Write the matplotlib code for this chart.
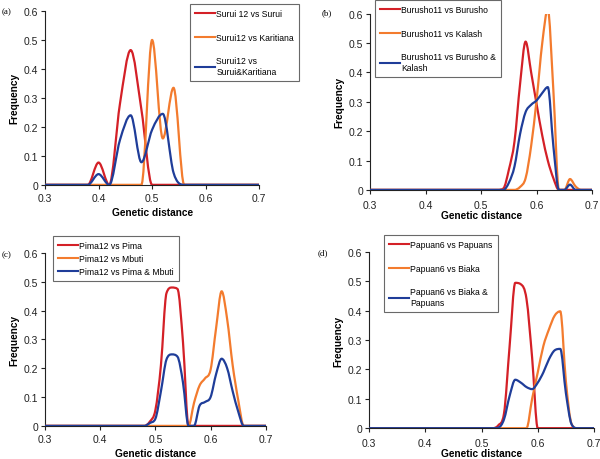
import numpy as np
import matplotlib
matplotlib.use("Agg")
import matplotlib.pyplot as plt
from matplotlib.path import Path
from matplotlib.patches import PathPatch
from matplotlib.lines import Line2D
from matplotlib.ticker import FuncFormatter

plt.rcParams['font.family'] = ['Liberation Sans', 'DejaVu Sans']

# colours of the three series (same in every panel)
RED = '#d42027'
ORANGE = '#f37b2e'
BLUE = '#1f3d99'

# ---- panel (a) ----
x_a = [0.30, 0.38, 0.40, 0.42, 0.44, 0.46, 0.48, 0.50, 0.52, 0.54, 0.56, 0.70]
red_a = [0, 0, 0.077, 0, 0.28, 0.465, 0.26, 0, 0, 0, 0, 0]
orange_a = [0, 0, 0, 0, 0, 0, 0, 0.50, 0.16, 0.335, 0, 0]
blue_a = [0, 0, 0.037, 0, 0.155, 0.24, 0.078, 0.19, 0.245, 0.042, 0, 0]
labels_a = ['Surui 12 vs Surui', 'Surui12 vs Karitiana', 'Surui12 vs\nSurui&Karitiana']

# ---- panel (b) ----
x_b = [0.30, 0.52, 0.53, 0.54, 0.55, 0.56, 0.57, 0.58, 0.59, 0.60, 0.61,
       0.62, 0.63, 0.64, 0.65, 0.66, 0.67, 0.68, 0.70]
red_b = [0, 0, 0, 0.005, 0.07, 0.165, 0.36, 0.505, 0.40, 0.29, 0.185,
         0.10, 0.04, 0, 0, 0, 0, 0, 0]
orange_b = [0, 0, 0, 0, 0, 0, 0.01, 0.04, 0.15, 0.31, 0.50,
            0.615, 0.34, 0, 0, 0.037, 0.012, 0, 0]
blue_b = [0, 0, 0, 0, 0.025, 0.08, 0.19, 0.265, 0.29, 0.305, 0.33,
          0.35, 0.15, 0, 0, 0.018, 0, 0, 0]
labels_b = ['Burusho11 vs Burusho', 'Burusho11 vs Kalash', 'Burusho11 vs Burusho &\nKalash']

# ---- panel (c) ----
x_c = [0.30, 0.47, 0.48, 0.49, 0.50, 0.51, 0.52, 0.53, 0.54, 0.55, 0.56, 0.57,
       0.58, 0.59, 0.60, 0.61, 0.62, 0.63, 0.64, 0.65, 0.66, 0.67, 0.70]
red_c = [0, 0, 0, 0.015, 0.055, 0.21, 0.46, 0.48, 0.475, 0.29, 0, 0,
         0, 0, 0, 0, 0, 0, 0, 0, 0, 0, 0]
orange_c = [0, 0, 0, 0, 0, 0, 0, 0, 0, 0, 0, 0.08,
            0.14, 0.165, 0.195, 0.34, 0.467, 0.37, 0.21, 0.09, 0, 0, 0]
blue_c = [0, 0, 0, 0.01, 0.025, 0.12, 0.23, 0.248, 0.24, 0.15, 0, 0,
          0.07, 0.083, 0.10, 0.18, 0.233, 0.20, 0.12, 0.05, 0, 0, 0]
labels_c = ['Pima12 vs Pima', 'Pima12 vs Mbuti', 'Pima12 vs Pima & Mbuti']

# ---- panel (d) ----
x_d = [0.30, 0.51, 0.52, 0.53, 0.54, 0.55, 0.56, 0.57, 0.58, 0.59, 0.60,
       0.61, 0.62, 0.63, 0.64, 0.65, 0.66, 0.67, 0.68, 0.70]
red_d = [0, 0, 0, 0.01, 0.05, 0.28, 0.495, 0.49, 0.44, 0.24, 0,
         0, 0, 0, 0, 0, 0, 0, 0, 0]
orange_d = [0, 0, 0, 0, 0, 0, 0, 0, 0, 0.10, 0.19,
            0.28, 0.337, 0.383, 0.398, 0.16, 0.015, 0, 0, 0]
blue_d = [0, 0, 0, 0.002, 0.03, 0.11, 0.165, 0.155, 0.14, 0.133, 0.155,
          0.19, 0.235, 0.265, 0.27, 0.12, 0.014, 0, 0, 0]
labels_d = ['Papuan6 vs Papuans', 'Papuan6 vs Biaka', 'Papuan6 vs Biaka &\nPapuans']


def smooth_path(x, y):
    # smoothed line: cubic bezier segments through the data points,
    # slopes limited so the curve does not overshoot
    x = np.asarray(x, float)
    y = np.asarray(y, float)
    n = len(x)
    m = np.zeros(n)
    for i in range(1, n - 1):
        d0 = (y[i] - y[i - 1]) / (x[i] - x[i - 1])
        d1 = (y[i + 1] - y[i]) / (x[i + 1] - x[i])
        if y[i] == 0 or d0 * d1 <= 0:
            continue
        s = (y[i + 1] - y[i - 1]) / (x[i + 1] - x[i - 1])
        m[i] = np.sign(s) * min(abs(s), 3 * min(abs(d0), abs(d1)))
    verts = [(x[0], y[0])]
    codes = [Path.MOVETO]
    for i in range(n - 1):
        h = x[i + 1] - x[i]
        verts += [(x[i] + h / 3, y[i] + m[i] * h / 3),
                  (x[i + 1] - h / 3, y[i + 1] - m[i + 1] * h / 3),
                  (x[i + 1], y[i + 1])]
        codes += [Path.CURVE4] * 3
    return Path(verts, codes)


def yfmt(v, pos):
    return '0' if abs(v) < 1e-9 else '%.1f' % v


def panel(rect, tag, tagpos, x, series, labels, leg_anchor, leg_space, tickpad, labpad):
    ax = fig.add_axes(rect)
    for i, (ys, c) in enumerate(zip(series, [RED, ORANGE, BLUE])):
        ax.add_patch(PathPatch(smooth_path(x, ys), fill=False, edgecolor=c,
                               lw=1.6, zorder=2 + i, capstyle='round', joinstyle='round'))
    ax.set_xlim(0.3, 0.7)
    ax.set_ylim(0, 0.6)
    ax.set_xticks([0.3, 0.4, 0.5, 0.6, 0.7])
    ax.set_yticks([0, 0.1, 0.2, 0.3, 0.4, 0.5, 0.6])
    ax.yaxis.set_major_formatter(FuncFormatter(yfmt))
    ax.spines['top'].set_visible(False)
    ax.spines['right'].set_visible(False)
    for s in ['left', 'bottom']:
        ax.spines[s].set_linewidth(0.8)
        ax.spines[s].set_color('#222222')
    ax.tick_params(direction='out', length=3, width=0.8, labelsize=7.5,
                   colors='#222222', pad=2)
    ax.tick_params(axis='x', pad=tickpad)
    ax.set_xlabel('Genetic distance', fontsize=7.3, fontweight='bold', labelpad=labpad)
    ax.set_ylabel('Frequency', fontsize=7.3, fontweight='bold', labelpad=3)
    handles = [Line2D([], [], color=c, lw=1.5) for c in [RED, ORANGE, BLUE]]
    leg = ax.legend(handles, labels, loc='upper left', bbox_to_anchor=leg_anchor,
                    bbox_transform=fig.transFigure, fontsize=6.2, frameon=True,
                    fancybox=False, edgecolor='#444444', handlelength=2.3,
                    handletextpad=0.15, labelspacing=leg_space, borderpad=0.6,
                    borderaxespad=0)
    leg.get_frame().set_linewidth(0.8)
    fig.text(tagpos[0], tagpos[1], tag, fontsize=6.5, family='Liberation Serif',
             ha='left', va='center')
    return ax


fig = plt.figure(figsize=(6, 4.6), dpi=100)

panel([0.075, 0.596, 0.357, 0.378], '(a)', (0.002, 1 - 12 / 460),
      x_a, [red_a, orange_a, blue_a], labels_a, (190 / 600, 1 - 5 / 460), 1.7, 3, 3)
panel([0.617, 0.585, 0.370, 0.383], '(b)', (322 / 600, 1 - 13 / 460),
      x_b, [red_b, orange_b, blue_b], labels_b, (375 / 600, 1 - 1 / 460), 1.7, 4, 0)
panel([0.075, 0.072, 0.368, 0.376], '(c)', (0.002, 1 - 255 / 460),
      x_c, [red_c, orange_c, blue_c], labels_c, (53 / 600, 1 - 237 / 460), 0.45, 3, 3)
panel([0.615, 0.067, 0.375, 0.383], '(d)', (318 / 600, 1 - 253 / 460),
      x_d, [red_d, orange_d, blue_d], labels_d, (384 / 600, 1 - 236 / 460), 1.7, 4, 0)

fig.savefig('out.png', dpi=100)
